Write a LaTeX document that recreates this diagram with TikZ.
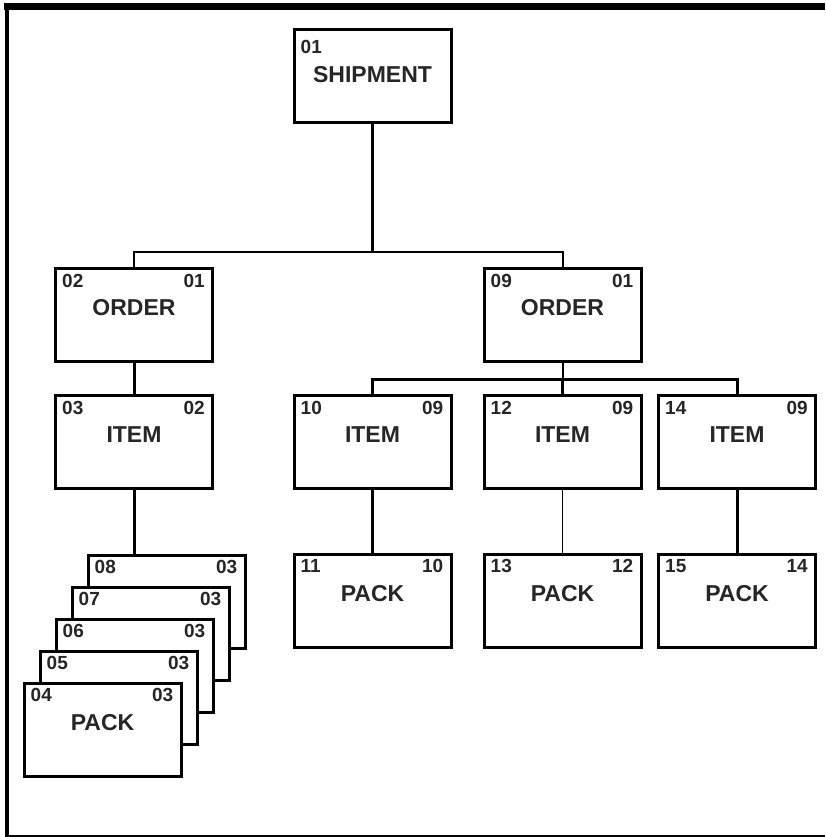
\documentclass[tikz,border=0pt]{standalone}
\usepackage{fontspec}
\setmainfont{Liberation Sans}
\begin{document}
\begin{tikzpicture}[x=1pt,y=-1pt,
  box/.style={draw=black,line width=3pt,fill=white,minimum width=157pt,minimum height=93pt,inner sep=0pt},
  num/.style={font=\fontsize{19}{19}\selectfont\bfseries,inner sep=0pt,text=black!85},
  lbl/.style={font=\fontsize{23}{23}\selectfont\bfseries,inner sep=0pt,text=black!85},
  thick conn/.style={line width=3pt},
  thin conn/.style={line width=2pt},
  hair conn/.style={line width=1.5pt}]
\useasboundingbox (0,0) rectangle (825,837);
% frame
\draw[line width=7pt] (4,6.5) -- (825,6.5);
\draw[line width=4pt] (7,4) -- (7,836);
\draw[line width=2pt] (5,835.5) -- (825,835.5);
% box macro: name, cx, cy, left num, right num, label, num offset, label offset
\newcommand\recbox[8]{%
  \node[box] (#1) at (#2,#3) {};
  \node[num,anchor=west] (#1-a) at ([xshift=8pt,yshift=-#7pt]#1.north west) {#4};
  \node[num,anchor=east] (#1-b) at ([xshift=-9pt,yshift=-#7pt]#1.north east) {#5};
  \node[lbl] (#1-c) at ([yshift=-#8pt]#1.north) {#6};}
% shipment
\node[box] (ship) at (372.5,76.5) {};
\node[num,anchor=west] (ship-a) at ([xshift=8pt,yshift=-18pt]ship.north west) {01};
\node[lbl] (ship-c) at ([yshift=-46pt]ship.north) {SHIPMENT};
% orders
\recbox{ord1}{134}{315}{02}{01}{ORDER}{14}{41}
\recbox{ord2}{562.5}{315}{09}{01}{ORDER}{14}{41}
% items
\recbox{it1}{134}{442}{03}{02}{ITEM}{14}{41}
\recbox{it2}{372.5}{442}{10}{09}{ITEM}{14}{41}
\recbox{it3}{562.5}{442}{12}{09}{ITEM}{14}{41}
\recbox{it4}{737}{442}{14}{09}{ITEM}{14}{41}
% packs
\recbox{pk11}{372.5}{601}{11}{10}{PACK}{13}{41}
\recbox{pk13}{562.5}{601}{13}{12}{PACK}{13}{41}
\recbox{pk15}{737}{601}{15}{14}{PACK}{13}{41}
% stacked packs
\recbox{pk08}{166.5}{601.5}{08}{03}{}{13}{41}
\recbox{pk07}{150.5}{633.5}{07}{03}{}{13}{41}
\recbox{pk06}{134.5}{665.5}{06}{03}{}{13}{41}
\recbox{pk05}{118.5}{697.5}{05}{03}{}{13}{41}
\recbox{pk04}{102.5}{729.5}{04}{03}{PACK}{13}{41}
% connectors
\coordinate (j1) at (372.5,251.5);
\coordinate (j2) at (562.5,379);
\draw[thick conn] (ship.south) -- (j1);
\draw[thin conn] (ord1.north) |- (j1) -| (ord2.north);
\draw[thick conn] (ord1.south) -- (it1.north);
\draw[thin conn] (ord2.south) -- (j2);
\draw[thick conn] (it2.north) |- (j2) -| (it4.north);
\draw[thick conn] (j2) -- (it3.north);
\draw[thick conn] (it2.south) -- (pk11.north);
\draw[hair conn] (it3.south) -- (pk13.north);
\draw[thick conn] (it4.south) -- (pk15.north);
\draw[thick conn] (it1.south) -- (it1.south |- pk08.north);
\end{tikzpicture}
\end{document}
